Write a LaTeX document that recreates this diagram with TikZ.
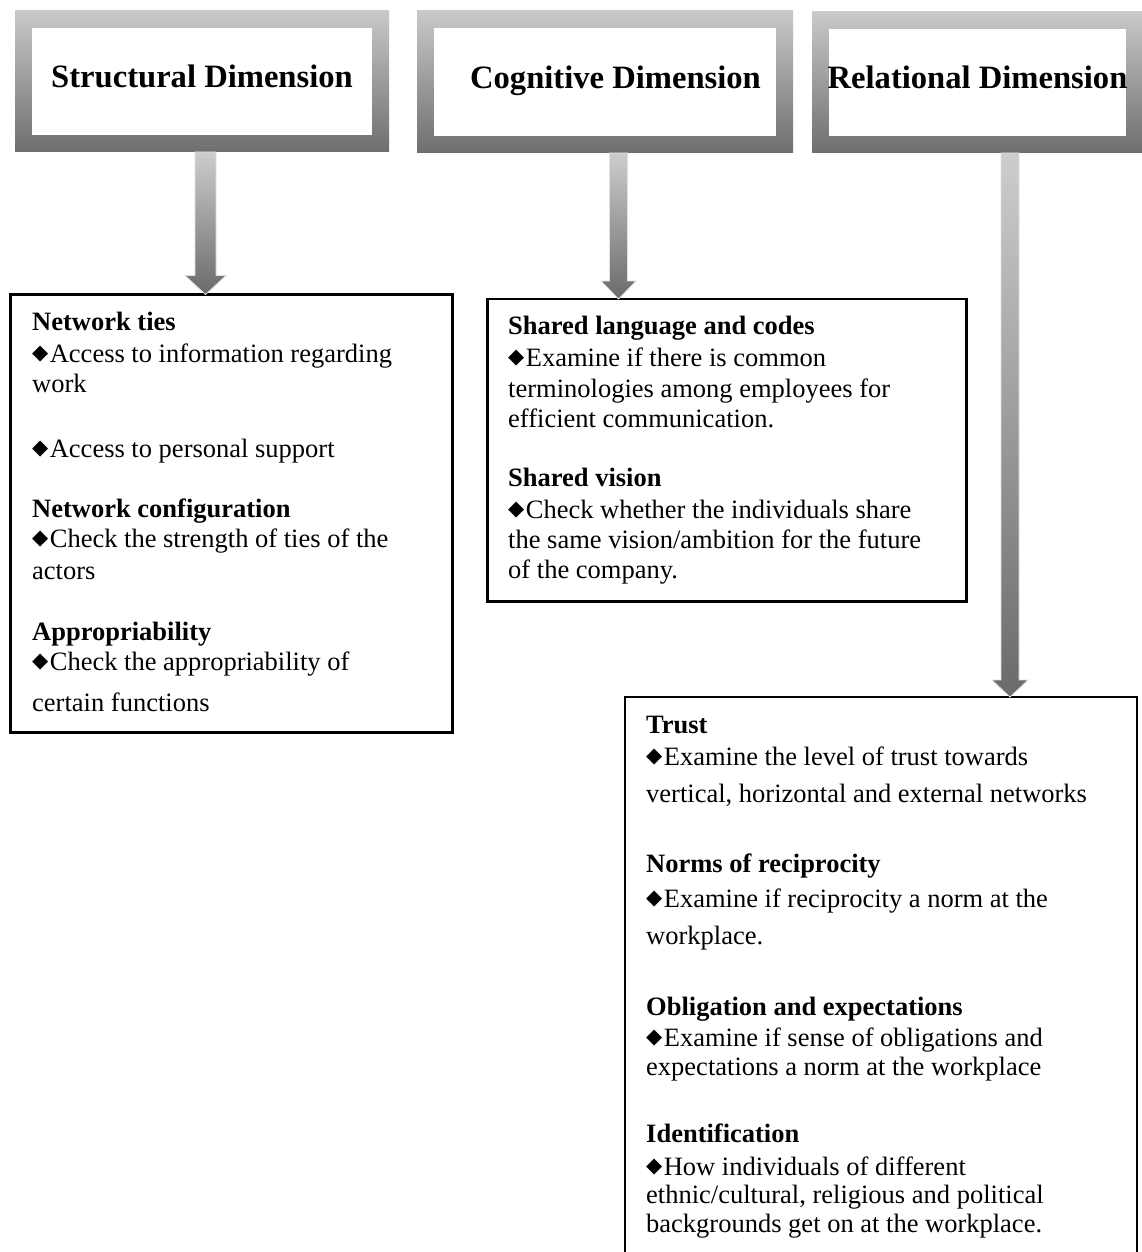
\documentclass[tikz,border=0pt]{standalone}
\usepackage{fontspec}
\setmainfont{Liberation Serif}
\newfontfamily\symfont{DejaVu Sans}
\usetikzlibrary{calc}

\definecolor{frametop}{HTML}{C9C9C9}
\definecolor{framebot}{HTML}{6E6E6E}
\definecolor{arrowtop}{HTML}{CDCDCD}
\definecolor{arrowbot}{HTML}{6A6A6A}

% bullet used in front of each item
\newcommand\dmd{\raisebox{2.5pt}{\symfont\fontsize{21}{21}\selectfont ◆}\hspace{1.5pt}}

% shaded block arrow: from node anchor #1 down to node anchor #2 along the
% vertical through coordinate #3; half shaft width #4, half head width #5,
% head length #6
\newcommand\blockarrow[6]{%
  \path[arrowshade] let \p1=(#1 -| #3), \p2=(#2 -| #3) in
    (\x1-#4,\y1) -- (\x1+#4,\y1) -- (\x2+#4,\y2+#6) -- (\x2+#5,\y2+#6)
    -- (\x2,\y2) -- (\x2-#5,\y2+#6) -- (\x2-#4,\y2+#6) -- cycle;}

\begin{document}
\begin{tikzpicture}[x=1pt,y=-1pt,
  hdr/.style={inner sep=0pt, outer sep=0pt, top color=frametop, bottom color=framebot,
    text height=22pt, text depth=9pt,
    font=\fontsize{32.6}{36}\selectfont\bfseries,
    path picture={\fill[white]
      ([shift={(17pt,17pt)}]path picture bounding box.south west) rectangle
      ([shift={(-17pt,-17pt)}]path picture bounding box.north east);}},
  itembox/.style={draw=black, line width=2.6pt, anchor=north west, inner sep=0pt, outer sep=0pt},
  txt/.style={anchor=base west, inner sep=0pt, font=\fontsize{26.5}{30}\selectfont},
  arrowshade/.style={top color=arrowtop, bottom color=arrowbot, draw=black!12, line width=0.8pt}]

\clip (0,0) rectangle (1142,1252);
\fill[white] (0,0) rectangle (1142,1252);

% dimension headers
\node[hdr, minimum width=374pt, minimum height=141pt] (h1) at (202,81.5) {Structural Dimension};
\node[hdr, minimum width=376pt, minimum height=142pt] (h2) at (605,82) {\hspace*{21pt}Cognitive Dimension};
\node[hdr, minimum width=331pt, minimum height=141pt] (h3) at (977.5,82.5) {Relational Dimension};

% item boxes
\node[itembox, minimum width=442pt, minimum height=438pt] (b1) at (10.5,294.5) {};
\node[itembox, minimum width=479pt, minimum height=302.5pt] (b2) at (487.5,299) {};
\node[itembox, minimum width=512pt, minimum height=600pt] (b3) at (625,697) {};

% arrows
\coordinate (ax1) at (205.5,0);
\coordinate (ax2) at (618.5,0);
\coordinate (ax3) at (1010,0);
\blockarrow{h1.south}{b1.north}{ax1}{10.5pt}{20.5pt}{19pt}
\blockarrow{h2.south}{b2.north}{ax2}{9pt}{17.5pt}{18pt}
\blockarrow{h3.south}{b3.north}{ax3}{9pt}{18pt}{17pt}

% structural items
\foreach \yy/\linetext [count=\i] in {
  330/{\textbf{Network ties}},
  362/{\dmd Access to information regarding},
  392/{work},
  457/{\dmd Access to personal support},
  517/{\textbf{Network configuration}},
  547/{\dmd Check the strength of ties of the},
  579/{actors},
  640/{\textbf{Appropriability}},
  670/{\dmd Check the appropriability of},
  711/{certain functions}}
  \node[txt] (s\i) at (32,\yy) {\linetext};

% cognitive items
\foreach \yy/\linetext [count=\i] in {
  334/{\textbf{Shared language and codes}},
  366/{\dmd Examine if there is common},
  397/{terminologies among employees for},
  427/{efficient communication.},
  486/{\textbf{Shared vision}},
  518/{\dmd Check whether the individuals share},
  548/{the same vision/ambition for the future},
  578/{of the company.}}
  \node[txt] (c\i) at (508,\yy) {\linetext};

% relational items
\foreach \yy/\linetext [count=\i] in {
  733/{\textbf{Trust}},
  765/{\dmd Examine the level of trust towards},
  802/{vertical, horizontal and external networks},
  872/{\textbf{Norms of reciprocity}},
  907/{\dmd Examine if reciprocity a norm at the},
  944/{workplace.},
  1015/{\textbf{Obligation and expectations}},
  1046/{\dmd Examine if sense of obligations and},
  1075/{expectations a norm at the workplace},
  1142/{\textbf{Identification}},
  1175/{\dmd How individuals of different},
  1203/{ethnic/cultural, religious and political},
  1232/{backgrounds get on at the workplace.}}
  \node[txt] (r\i) at (646,\yy) {\linetext};

\end{tikzpicture}
\end{document}
